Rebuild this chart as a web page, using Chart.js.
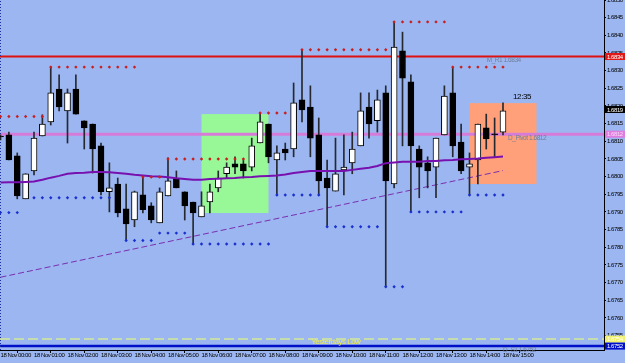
<!DOCTYPE html>
<html><head><meta charset="utf-8">
<script src="https://cdn.jsdelivr.net/npm/chart.js@4.4.0/dist/chart.umd.min.js"></script>
<style>html,body{margin:0;padding:0;background:#9bb6f0;overflow:hidden}</style>
</head><body>
<canvas id="c" width="625" height="363" style="display:block;width:625px;height:363px"></canvas>
<script>
// ---- data (M15 bars, 18 Nov 00:00 .. 15:00) ----
const hourLabels = ['18 Nov 00:00','18 Nov 01:00','18 Nov 02:00','18 Nov 03:00','18 Nov 04:00','18 Nov 05:00','18 Nov 06:00','18 Nov 07:00','18 Nov 08:00','18 Nov 09:00','18 Nov 10:00','18 Nov 11:00','18 Nov 12:00','18 Nov 13:00','18 Nov 14:00','18 Nov 15:00'];
const openP = [1.68112,1.68118,1.68059,1.67937,1.68016,1.68115,1.68155,1.68248,1.68186,1.68248,1.68158,1.68149,1.68087,1.67957,1.67979,1.67909,1.67877,1.67948,1.67917,1.67869,1.67945,1.67996,1.67957,1.67928,1.67886,1.67928,1.67968,1.68008,1.68036,1.68036,1.68027,1.68095,1.68149,1.68047,1.68078,1.68078,1.68217,1.68197,1.68118,1.67996,1.67959,1.68019,1.68039,1.68087,1.68197,1.68158,1.68237,1.67979,1.68356,1.68268,1.68078,1.68039,1.68027,1.68118,1.68237,1.68098,1.68027,1.68047,1.68138,1.68118,1.68126];
const highP = [1.68118,1.68126,1.68067,1.68008,1.68126,1.68175,1.68310,1.68288,1.68248,1.68288,1.68158,1.68149,1.68095,1.68039,1.67996,1.67979,1.67959,1.67999,1.67926,1.67968,1.68053,1.68016,1.67957,1.67928,1.67957,1.67979,1.68016,1.68039,1.68056,1.68047,1.68109,1.68180,1.68149,1.68087,1.68095,1.68265,1.68359,1.68257,1.68166,1.68047,1.68109,1.68118,1.68126,1.68237,1.68237,1.68245,1.68257,1.68438,1.68409,1.68288,1.68087,1.68056,1.68109,1.68257,1.68310,1.68149,1.68067,1.68149,1.68177,1.68166,1.68209];
const lowP = [1.68104,1.68047,1.67937,1.67937,1.68005,1.68115,1.68146,1.68186,1.68095,1.68177,1.68078,1.68010,1.67948,1.67900,1.67886,1.67821,1.67858,1.67897,1.67869,1.67869,1.67945,1.67968,1.67877,1.67809,1.67886,1.67897,1.67957,1.67996,1.68008,1.67996,1.68016,1.68095,1.68039,1.67948,1.68047,1.68056,1.68155,1.68056,1.67948,1.67858,1.67959,1.67948,1.68008,1.68087,1.68109,1.68126,1.67688,1.67968,1.68087,1.67900,1.67940,1.67968,1.67940,1.68118,1.68056,1.68008,1.67948,1.67979,1.68078,1.68056,1.68118];
const closeP = [1.68112,1.68047,1.67945,1.68008,1.68109,1.68149,1.68237,1.68197,1.68237,1.68177,1.68138,1.68078,1.67957,1.67968,1.67897,1.67866,1.67957,1.67906,1.67877,1.67957,1.67988,1.67968,1.67917,1.67897,1.67917,1.67957,1.67996,1.68027,1.68027,1.68016,1.68087,1.68155,1.68056,1.68067,1.68067,1.68209,1.68189,1.68109,1.67988,1.67968,1.68008,1.68027,1.68078,1.68186,1.68149,1.68217,1.67988,1.68367,1.68279,1.68087,1.68027,1.68016,1.68109,1.68228,1.68087,1.68016,1.68036,1.68149,1.68107,1.68118,1.68186];
const maLine = [1.67983,1.67984,1.67984,1.67985,1.67986,1.67991,1.67997,1.68002,1.68008,1.68010,1.68011,1.68013,1.68013,1.68012,1.68010,1.68008,1.68005,1.68003,1.68001,1.68000,1.67998,1.67995,1.67993,1.67991,1.67991,1.67993,1.67994,1.67995,1.67996,1.67998,1.67999,1.68001,1.68002,1.68003,1.68006,1.68010,1.68013,1.68016,1.68016,1.68016,1.68016,1.68016,1.68019,1.68022,1.68025,1.68030,1.68038,1.68040,1.68042,1.68042,1.68042,1.68044,1.68044,1.68046,1.68047,1.68049,1.68050,1.68051,1.68053,1.68055,1.68057];
const resistDots = [1.68170,1.68170,1.68170,1.68170,1.68170,1.68170,1.68310,1.68310,1.68310,1.68310,1.68310,1.68310,1.68310,1.68310,1.68310,1.68310,1.68310,1.67999,1.67999,1.67999,1.68050,1.68050,1.68050,1.68050,1.68050,1.68050,1.68050,1.68050,1.68050,1.68050,null,1.68180,1.68180,1.68180,1.68180,null,1.68359,1.68359,1.68359,1.68359,1.68359,1.68359,1.68359,1.68359,1.68359,1.68359,1.68359,1.68438,1.68438,1.68438,1.68438,1.68438,1.68438,1.68438,1.68310,1.68310,1.68310,1.68310,1.68310,1.68310,1.68310];
const supportDots = [1.67898,1.67898,1.67898,null,1.67940,1.67940,1.67940,1.67940,1.67940,1.67940,1.67940,1.67940,1.67940,1.67940,null,1.67819,1.67819,1.67819,1.67819,1.67840,1.67840,1.67840,1.67840,1.67809,1.67809,1.67809,1.67809,1.67809,1.67809,1.67809,1.67809,1.67809,1.67809,1.67948,1.67948,1.67948,1.67948,1.67948,1.67948,1.67858,1.67858,1.67858,1.67858,1.67858,1.67858,1.67858,1.67688,1.67688,1.67688,1.67900,1.67900,1.67900,1.67900,1.67900,1.67900,1.67900,1.67948,1.67948,1.67948,1.67948,1.67948];
const trendBars = [0, 60];
const trendValues = [1.67715, 1.68017];
const levelM_R1 = 1.6834, levelPivot = 1.6812, levelYLow = 1.6754, levelS1 = 1.6752, levelBid = 1.6819;
const greenBox = {from: 24, to: 32, low: 1.67897, high: 1.68177};
const orangeBox = {from: 56, to: 64, low: 1.67979, high: 1.68208};
const timerText = '12:35';

// ---- chart ----
const X_MIN = -0.06, X_MAX = 72.06, Y_MIN = 1.67509, Y_MAX = 1.68500;
const FONT = "'Liberation Sans',Arial,sans-serif";
const BG = '#9bb6f0';
const idx = openP.map((_, i) => i);
const hLine = (v) => [{x: X_MIN, y: v}, {x: X_MAX, y: v}];
const dots = (arr) => arr.map((v, i) => v === null ? null : {x: i, y: v}).filter(Boolean);

const overlay = {
  id: 'overlay',
  beforeDraw(chart) {
    const c = chart.ctx;
    c.save(); c.fillStyle = BG; c.fillRect(0, 0, chart.width, chart.height); c.restore();
    c.letterSpacing = '-0.45px';   // condensed axis text (like the terminal's small font)
  },
  beforeDatasetsDraw(chart) {
    const {ctx, scales: {x, y}, chartArea: a} = chart;
    ctx.letterSpacing = '0px';
    ctx.save();
    ctx.beginPath(); ctx.rect(a.left, a.top, a.right - a.left, a.bottom - a.top); ctx.clip();
    [[greenBox, '#98f898'], [orangeBox, '#ffa07a']].forEach(([b, col]) => {
      const x0 = x.getPixelForValue(b.from), x1 = x.getPixelForValue(b.to);
      const y0 = y.getPixelForValue(b.high), y1 = y.getPixelForValue(b.low);
      ctx.fillStyle = col; ctx.fillRect(x0, y0, x1 - x0, y1 - y0);
    });
    ctx.restore();
  },
  afterDatasetsDraw(chart) {
    const {ctx, scales: {x, y}} = chart;
    ctx.save();
    ctx.textBaseline = 'middle'; ctx.textAlign = 'left';
    ctx.letterSpacing = '-0.45px';
    ctx.font = "6.5px " + FONT; ctx.fillStyle = '#6f7f9c';
    ctx.fillText('M_R1 ' + levelM_R1.toFixed(4), x.getPixelForValue(58.05), y.getPixelForValue(levelM_R1) + 4);
    ctx.fillText('D_Pivot ' + levelPivot.toFixed(4), x.getPixelForValue(60.6), y.getPixelForValue(levelPivot) + 4);
    ctx.fillText('D_S1 ' + levelS1.toFixed(4), x.getPixelForValue(60.0), y.getPixelForValue(levelS1) + 4.5);
    ctx.letterSpacing = '-0.5px';
    ctx.font = "8px " + FONT; ctx.fillStyle = '#eeee4c';
    ctx.fillText('Yesterdays Low', x.getPixelForValue(37.1), y.getPixelForValue(levelYLow) + 3);
    ctx.letterSpacing = '-0.4px';
    ctx.font = "8px " + FONT; ctx.fillStyle = '#000';
    ctx.fillText(timerText, x.getPixelForValue(61.2), y.getPixelForValue(orangeBox.high) - 6);
    ctx.restore();
  },
  afterDraw(chart) {
    const {ctx, scales: {y}, chartArea: a} = chart;
    ctx.save();
    ctx.letterSpacing = '-0.45px';
    ctx.font = "6px " + FONT; ctx.textBaseline = 'middle'; ctx.textAlign = 'left';
    [[levelM_R1, '#e01818', '#ffffff'], [levelBid, '#000000', '#ffffff'], [levelPivot, '#e07ce0', '#f8d8f8'],
     [levelYLow, '#f0f070', '#fffff0'], [levelS1, '#0010c8', '#ffffff']].forEach(([v, bg, fg]) => {
      const py = y.getPixelForValue(v);
      ctx.fillStyle = bg; ctx.fillRect(a.right + 1, py - 3.5, 20, 7);
      ctx.fillStyle = fg; ctx.fillText(v.toFixed(4), a.right + 3, py + 0.5);
    });
    ctx.restore();
  }
};

new Chart(document.getElementById('c'), {
  type: 'bar',
  data: {
    datasets: [
      {type: 'line', data: hLine(levelM_R1), borderColor: '#e01010', borderWidth: 2, pointRadius: 0, order: 20},
      {type: 'line', data: hLine(levelPivot), borderColor: '#d77bd9', borderWidth: 3, pointRadius: 0, order: 20},
      {type: 'line', data: hLine(levelYLow), borderColor: '#d4ea98', borderWidth: 1.5, borderDash: [10, 4], pointRadius: 0, order: 20},
      {type: 'line', data: hLine(levelS1), borderColor: '#0010c8', borderWidth: 2.5, pointRadius: 0, order: 20},
      {type: 'line', data: [{x: 0, y: Y_MIN}, {x: 0, y: Y_MAX}], borderColor: '#2030a0', borderWidth: 1, borderDash: [1, 2], pointRadius: 0, order: 19},
      {type: 'line', data: trendBars.map((b, i) => ({x: b, y: trendValues[i]})), borderColor: '#7a2fb0', borderWidth: 1, borderDash: [6, 3], pointRadius: 0, order: 18},
      {type: 'bar', data: idx.map(i => ({x: i, y: [lowP[i], highP[i]]})), backgroundColor: '#262a30', barThickness: 1, grouped: false, order: 10},
      {type: 'bar', data: idx.map(i => ({x: i, y: [openP[i], closeP[i]]})),
        backgroundColor: (c) => closeP[c.dataIndex] > openP[c.dataIndex] ? '#ffffff' : '#000000',
        borderColor: '#000000', borderWidth: 1, borderSkipped: false, barThickness: 6, minBarLength: 1, grouped: false, order: 9},
      {type: 'line', data: idx.map(i => ({x: i, y: maLine[i]})), borderColor: '#7810b0', borderWidth: 2, pointRadius: 0, tension: 0, order: 3},
      {type: 'line', data: dots(resistDots), showLine: false, pointStyle: 'rectRot', pointRadius: 1.7, pointHoverRadius: 1.7, pointBackgroundColor: '#c81e1e', pointBorderWidth: 0, order: 2},
      {type: 'line', data: dots(supportDots), showLine: false, pointStyle: 'rectRot', pointRadius: 1.7, pointHoverRadius: 1.7, pointBackgroundColor: '#1a2fd0', pointBorderWidth: 0, order: 2}
    ]
  },
  options: {
    responsive: false, animation: false, devicePixelRatio: 1,
    layout: {padding: 0, autoPadding: false},
    plugins: {legend: {display: false}, tooltip: {enabled: false}},
    scales: {
      x: {
        type: 'linear', min: X_MIN, max: X_MAX, offset: false,
        afterBuildTicks: (s) => { s.ticks = hourLabels.map((_, k) => ({value: k * 4})); },
        ticks: {autoSkip: false, maxRotation: 0, minRotation: 0, align: 'start', padding: -1, color: '#000',
          font: {family: FONT, size: 6}, callback: (v, k) => hourLabels[k]},
        grid: {display: true, drawOnChartArea: false, tickLength: 3, color: '#000'},
        border: {display: true, color: '#000', width: 1},
        afterFit: (s) => { s.height = 13; s.paddingLeft = 0; s.paddingRight = 0; }
      },
      y: {
        position: 'right', min: Y_MIN, max: Y_MAX,
        ticks: {stepSize: 0.0005, includeBounds: false, autoSkip: false, padding: 1, color: '#000',
          font: {family: FONT, size: 6}, callback: (v) => v.toFixed(4)},
        grid: {display: true, drawOnChartArea: false, tickLength: 2, color: '#000'},
        border: {display: true, color: '#000', width: 1},
        afterFit: (s) => { s.width = 21; s.paddingTop = 0; s.paddingBottom = 0; }
      }
    }
  },
  plugins: [overlay]
});
</script>
</body></html>
